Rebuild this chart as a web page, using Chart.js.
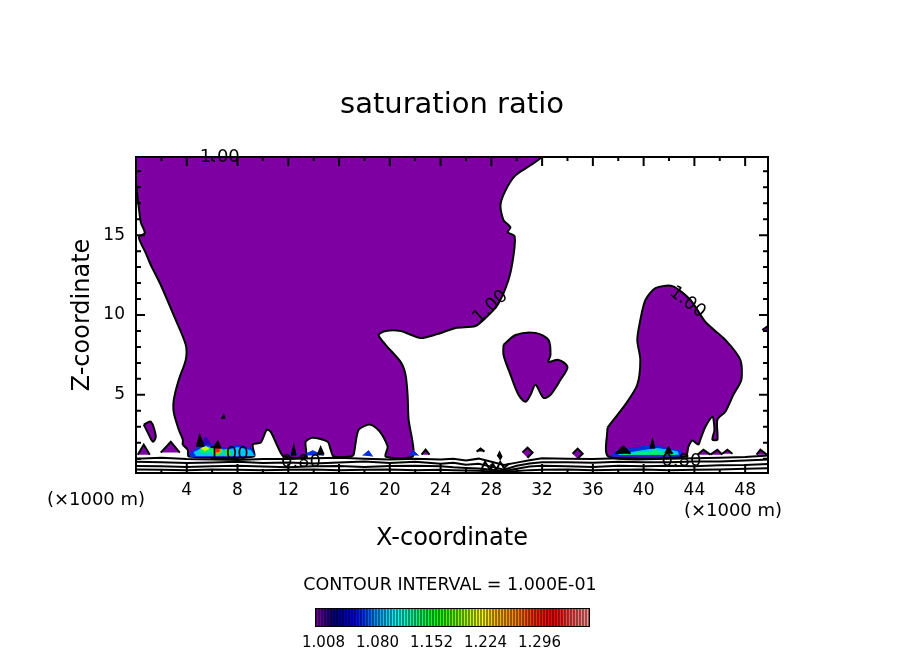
<!DOCTYPE html>
<html lang="en">
<head>
  <meta charset="UTF-8">
  <title>saturation ratio</title>
  <script src="https://cdn.jsdelivr.net/npm/chart.js"></script>
  <style>
    html, body { margin: 0; background: #fff; overflow: hidden; }
    #chart { position: absolute; left: 0; top: 0; }
    #colorbar { position: absolute; left: 290px; top: 572px; }
  </style>
</head>
<body>
  <canvas id="chart" width="904" height="654"></canvas>
  <canvas id="colorbar" width="320" height="82"></canvas>

  <script>
    // axis ticks (x in 1000 m, z in 1000 m)
    const xMajorTicks = [4, 8, 12, 16, 20, 24, 28, 32, 36, 40, 44, 48];
    const xMinorTicks = [2, 6, 10, 14, 18, 22, 26, 30, 34, 38, 42, 46];
    const zMajorTicks = [5, 10, 15];
    const zMinorTicks = [1, 2, 3, 4, 6, 7, 8, 9, 11, 12, 13, 14, 16, 17, 18, 19];

    // 1.00 contour, filled regions
    const mainCloudX = [0, 0.5, 31, 31.95, 31.09, 29.9, 29.12, 28.72, 28.96, 29.51, 29.28, 29.83, 29.75, 29.35, 28.49, 27.54, 26.75, 25.18, 23.76, 22.43, 20.85, 19.67, 19.12, 19.67, 20.85, 21.24, 21.4, 21.48, 21.8, 21.8, 19.67, 19.83, 19.27, 18.49, 17.54, 17.15, 16.91, 15.57, 15.34, 15.1, 13.92, 13.37, 13.37, 11.64, 11.17, 10.61, 10.3, 9.83, 9.2, 9.28, 4.16, 4.08, 3.69, 3.69, 3.37, 2.98, 2.98, 3.37, 3.92, 3.92, 3.13, 1.95, 1.17, 0.77, 0.22, 0.69, 0.38, 0.14, 0, 0];
    const mainCloudZ = [19.9, 19.9, 19.9, 19.9, 19.38, 18.75, 17.81, 16.88, 15.94, 15.5, 15.19, 14.94, 13.75, 12.19, 10.63, 9.81, 9.31, 9.19, 8.81, 8.56, 9, 9, 8.75, 8.13, 7.06, 6.25, 5, 3.44, 2, 1.13, 1.13, 1.75, 2.63, 3.13, 2.81, 1.25, 1.13, 1.13, 1.56, 2.06, 2.31, 2.06, 1.13, 1.13, 1.75, 2.69, 2.81, 2, 1.88, 1.13, 1.13, 1.56, 1.88, 2.19, 2.81, 3.88, 4.69, 5.94, 7.19, 8.13, 9.69, 11.88, 13.13, 13.88, 14.88, 15.13, 15.81, 17.31, 18.4, 19.9];
    const islandX = [28.96, 29.91, 31.48, 32.5, 32.66, 32.5, 33.29, 34, 33.45, 32.66, 32.11, 31.48, 31.09, 30.69, 30.14, 29.51, 28.96, 28.96];
    const islandZ = [8.13, 8.75, 8.88, 8.44, 7.5, 7.06, 7.19, 6.75, 5.94, 5, 4.81, 5.63, 5, 4.56, 5, 6.25, 7.5, 8.13];
    const rightCloudX = [37.15, 37.23, 43.29, 43.53, 43.84, 44.31, 44.47, 44.87, 45.42, 45.58, 45.42, 45.81, 45.81, 46.44, 47.07, 47.7, 47.62, 46.44, 44.87, 43.69, 42.27, 40.93, 40.14, 39.74, 39.5, 39.74, 39.5, 38.55, 37.15];
    const rightCloudZ = [2.94, 1.13, 1.13, 1.75, 2.13, 1.88, 2.19, 3, 3.63, 2.81, 2.19, 2.19, 3.44, 3.94, 5, 5.94, 7.19, 8.44, 9.56, 10.94, 11.81, 11.69, 10.94, 9.69, 8.44, 7.19, 5.63, 4.38, 2.94];
    const leftBlobX = [0.61, 1.17, 1.56, 1.32, 0.93, 0.61];
    const leftBlobZ = [3.13, 3.31, 2.38, 2.06, 2.63, 3.13];

    // small purple patches along the low levels: [x list, z list]
    const smallPatches = [
      [[0.14, 0.61, 1.09], [1.25, 1.88, 1.25]],
      [[1.95, 2.74, 3.45], [1.38, 2.06, 1.38]],
      [[22.5, 22.82, 23.13], [1.25, 1.56, 1.25]],
      [[30.45, 30.85, 31.25, 30.85], [1.38, 1.69, 1.38, 1.06]],
      [[34.4, 34.8, 35.2, 34.8], [1.31, 1.63, 1.31, 1]],
      [[44.24, 44.71, 45.26], [1.25, 1.56, 1.25]],
      [[45.26, 45.81, 46.2], [1.25, 1.56, 1.25]],
      [[46.2, 46.6, 47], [1.31, 1.56, 1.31]],
      [[48.9, 49.2, 49.7], [1.25, 1.56, 1.25]],
      [[49.35, 49.8, 49.8], [9.06, 9.31, 8.88]]
    ];

    // tiny closed contours that print as black specks
    const blackSpecks = [
      [[4.79, 5.02, 5.34], [1.75, 2.44, 1.75]],
      [[6.13, 6.44, 6.68], [1.63, 2.06, 1.63]],
      [[12.27, 12.43, 12.58], [1.19, 1.75, 1.19]],
      [[14.32, 14.55, 14.79], [1.25, 1.69, 1.25]],
      [[40.54, 40.7, 40.85], [1.63, 2.13, 1.63]],
      [[37.8, 38.4, 38.96], [1.31, 1.75, 1.31]],
      [[41.7, 41.96, 42.27], [1.31, 1.69, 1.31]],
      [[26.84, 27.15, 27.46], [1.44, 1.63, 1.44]],
      [[28.49, 28.65, 28.8, 28.65], [1.13, 1.38, 1.13, 0.94]],
      [[6.76, 6.91, 6.99], [3.5, 3.69, 3.5]]
    ];

    // shaded levels above 1.00: [x list, z list, colour], drawn bottom first
    const shadedPatches = [
      [[5.02, 5.5, 5.97], [1.81, 2.38, 1.81], '#3000b8'],
      [[4.2, 5.1, 6.3, 7.1, 8, 9.05, 9.36, 4.3], [1.3, 1.85, 1.85, 1.6, 1.85, 1.66, 1.19, 1.13], '#0030e0'],
      [[4.55, 5.5, 6.3, 7.15, 8, 9.05, 9.28, 4.7], [1.38, 1.75, 1.63, 1.5, 1.69, 1.5, 1.19, 1.19], '#00c8ff'],
      [[4.95, 5.5, 5.9, 6.13, 5.1], [1.5, 1.69, 1.69, 1.44, 1.38], '#00f070'],
      [[5.1, 5.5, 5.73, 5.42], [1.63, 1.75, 1.63, 1.5], '#d8ff00'],
      [[5.97, 6.52, 6.83, 6.52, 6.05], [1.56, 1.88, 1.44, 1.19, 1.25], '#30f030'],
      [[6.13, 6.52, 6.68, 6.28], [1.69, 1.75, 1.44, 1.31], '#ff9000'],
      [[6.28, 6.52, 6.52, 6.28], [1.63, 1.63, 1.44, 1.44], '#ff2000'],
      [[6.99, 7.39, 7.47, 7.07], [1.56, 1.56, 1.19, 1.19], '#20f000'],
      [[12.03, 12.43, 12.82], [1.25, 1.5, 1.25], '#0030e0'],
      [[13.13, 13.92, 14.79], [1.19, 1.5, 1.19], '#0030e0'],
      [[17.86, 18.33, 18.65], [1.19, 1.5, 1.13], '#0030e0'],
      [[21.48, 21.87, 22.27], [1.19, 1.5, 1.19], '#0030e0'],
      [[37.38, 37.94, 40.3, 41.09, 42.11, 43.06, 42.9], [1.13, 1.5, 1.8, 1.8, 1.6, 1.44, 1.13], '#0030e0'],
      [[38.02, 40.39, 41.09, 42.66, 42.74], [1.25, 1.56, 1.63, 1.44, 1.25], '#00c8ff'],
      [[38.33, 39.75, 40.54, 40.93, 41.32, 42.35, 42.5], [1.25, 1.38, 1.38, 1.56, 1.38, 1.31, 1.25], '#00f070']
    ];

    // low-level contours 0.80 and below
    const lowLineX = [0, 2, 4, 6, 8, 10, 12, 14, 16, 18, 20, 22, 24, 25, 26, 27, 28, 29, 30, 31, 32, 34, 36, 38, 40, 42, 44, 46, 48, 49.8];
    const lowLineA = [1, 1.06, 0.97, 0.94, 0.92, 0.97, 0.97, 1.03, 1.06, 1, 0.94, 1, 0.94, 1, 0.88, 1, 0.81, 0.6, 0.75, 0.9, 1.03, 1, 0.97, 1.03, 1, 1, 1.03, 1.06, 1.1, 1.19];
    const lowLineB = [0.8, 0.78, 0.72, 0.76, 0.8, 0.72, 0.76, 0.7, 0.76, 0.82, 0.72, 0.8, 0.68, 0.74, 0.62, 0.68, 0.5, 0.3, 0.55, 0.7, 0.78, 0.78, 0.74, 0.8, 0.78, 0.78, 0.82, 0.82, 0.88, 0.94];
    const lowLineC = [0.54, 0.52, 0.48, 0.52, 0.56, 0.5, 0.46, 0.52, 0.54, 0.48, 0.54, 0.56, 0.52, 0.46, 0.42, 0.38, 0.3, 0.22, 0.36, 0.5, 0.56, 0.52, 0.48, 0.56, 0.52, 0.56, 0.52, 0.58, 0.6, 0.66];
    const lowLineD = [0.32, 0.3, 0.28, 0.32, 0.3, 0.28, 0.3, 0.32, 0.28, 0.3, 0.32, 0.28, 0.3, 0.28, 0.26, 0.24, 0.2, 0.18, 0.22, 0.28, 0.3, 0.32, 0.28, 0.3, 0.32, 0.28, 0.3, 0.32, 0.36, 0.4];
    const squiggleX = [27.2, 27.5, 27.9, 28.1, 28.4, 28.7, 29, 29.4];
    const squiggleZ = [0.3, 0.8, 0.3, 0.7, 0.3, 0.8, 0.4, 0.7];

    // contour labels
    const labelText = ['1.00', '1.00', '1.00', '1.00', '0.80', '0.80'];
    const labelX = [6.6, 27.94, 43.45, 7.3, 13, 42.98];
    const labelZ = [19.9, 10.5, 10.8, 1.25, 0.75, 0.81];
    const labelAngle = [0, -42, 37, 0, 0, 0];

    // colour key
    const keyLevels = [1, 1.004, 1.008, 1.012, 1.016, 1.02, 1.024, 1.028, 1.032, 1.036, 1.04, 1.044, 1.048, 1.052, 1.056, 1.06, 1.064, 1.068, 1.072, 1.076, 1.08, 1.084, 1.088, 1.092, 1.096, 1.1, 1.104, 1.108, 1.112, 1.116, 1.12, 1.124, 1.128, 1.132, 1.136, 1.14, 1.144, 1.148, 1.152, 1.156, 1.16, 1.164, 1.168, 1.172, 1.176, 1.18, 1.184, 1.188, 1.192, 1.196, 1.2, 1.204, 1.208, 1.212, 1.216, 1.22, 1.224, 1.228, 1.232, 1.236, 1.24, 1.244, 1.248, 1.252, 1.256, 1.26, 1.264, 1.268, 1.272, 1.276, 1.28, 1.284, 1.288, 1.292, 1.296, 1.3, 1.304, 1.308, 1.312, 1.316, 1.32, 1.324, 1.328, 1.332, 1.336, 1.34, 1.344, 1.348, 1.352, 1.356, 1.36];
    const keyColors = ['#7000a0', '#5c0098', '#480090', '#300088', '#200080', '#100078', '#000088', '#000098', '#0000a8', '#0000b8', '#0000c8', '#0000d8', '#0000e8', '#0010f0', '#0020f8', '#0030ff', '#0048ff', '#0060ff', '#0078ff', '#0090ff', '#00a0ff', '#00b0ff', '#00c0ff', '#00d0ff', '#00e0ff', '#00ecff', '#00f8ff', '#00fff0', '#00ffe0', '#00ffd0', '#00ffc0', '#00ffac', '#00ff98', '#00ff84', '#00ff70', '#00ff60', '#00ff50', '#00ff40', '#00ff30', '#00ff20', '#10ff10', '#20ff00', '#30ff00', '#40ff00', '#50ff00', '#60ff00', '#70ff00', '#80ff00', '#90ff00', '#a0ff00', '#b0ff00', '#c0ff00', '#d0ff00', '#e0ff00', '#f0ff00', '#ffff00', '#fff000', '#ffe000', '#ffd000', '#ffc000', '#ffb800', '#ffb000', '#ffa800', '#ffa000', '#ff9800', '#ff9000', '#ff8800', '#ff8000', '#ff7000', '#ff6000', '#ff5000', '#ff4000', '#ff3000', '#ff2800', '#ff2000', '#ff1800', '#ff1000', '#ff0800', '#ff0000', '#ff0000', '#ff1010', '#ff2020', '#ff3030', '#ff4040', '#ff5050', '#ff5c5c', '#ff6868', '#ff7070', '#ff7c7c', '#ff8888', '#ff9090'];
    const keyLabels = [1.008, 1.08, 1.152, 1.224, 1.296];

    const FONT = '"DejaVu Sans", sans-serif';
    const PURPLE = '#7e00a3';

    function zip(xs, zs) {
      return xs.map((x, i) => ({ x, y: zs[i] }));
    }

    function region(xs, zs, fillColor, tension = 0) {
      return { data: zip(xs, zs), showLine: true, fill: 'shape', backgroundColor: fillColor,
        borderColor: 'black', borderWidth: 2, pointRadius: 0, tension };
    }

    function shade(xs, zs, color) {
      return { data: zip(xs, zs), showLine: true, fill: 'shape', backgroundColor: color,
        borderColor: color, borderWidth: 1, pointRadius: 0, tension: 0 };
    }

    function contour(xs, zs) {
      return { data: zip(xs, zs), showLine: true, fill: false, borderColor: 'black',
        borderWidth: 2, pointRadius: 0, tension: 0 };
    }

    // first dataset ends up on top in Chart.js
    const datasets = [];
    blackSpecks.forEach(p => datasets.push(region(p[0], p[1], 'black')));
    [lowLineA, lowLineB, lowLineC, lowLineD].forEach(z => datasets.push(contour(lowLineX, z)));
    datasets.push(contour(squiggleX, squiggleZ));
    shadedPatches.slice().reverse().forEach(p => datasets.push(shade(p[0], p[1], p[2])));
    smallPatches.forEach(p => datasets.push(region(p[0], p[1], PURPLE)));
    datasets.push(region(leftBlobX, leftBlobZ, PURPLE, 0.3));
    datasets.push(region(rightCloudX, rightCloudZ, PURPLE, 0.25));
    datasets.push(region(islandX, islandZ, PURPLE, 0.3));
    datasets.push(region(mainCloudX, mainCloudZ, PURPLE, 0.25));

    const frameAndLabels = {
      id: 'frameAndLabels',
      afterDatasetsDraw(chart) {
        const { ctx, chartArea: a, scales: { x, y } } = chart;
        ctx.save();
        ctx.strokeStyle = 'black';
        ctx.lineWidth = 2;
        ctx.strokeRect(a.left, a.top, a.right - a.left, a.bottom - a.top);
        ctx.beginPath();
        const xTick = (v, len) => {
          const px = x.getPixelForValue(v);
          ctx.moveTo(px, a.top); ctx.lineTo(px, a.top + len);
          ctx.moveTo(px, a.bottom); ctx.lineTo(px, a.bottom - len);
        };
        const zTick = (v, len) => {
          const py = y.getPixelForValue(v);
          ctx.moveTo(a.left, py); ctx.lineTo(a.left + len, py);
          ctx.moveTo(a.right, py); ctx.lineTo(a.right - len, py);
        };
        xMajorTicks.forEach(v => xTick(v, 9));
        xMinorTicks.forEach(v => xTick(v, 4));
        zMajorTicks.forEach(v => zTick(v, 9));
        zMinorTicks.forEach(v => zTick(v, 5));
        ctx.stroke();

        // contour labels sit on the lines
        ctx.fillStyle = 'black';
        ctx.font = '18px ' + FONT;
        ctx.textAlign = 'center';
        ctx.textBaseline = 'middle';
        labelText.forEach((t, i) => {
          ctx.save();
          ctx.translate(x.getPixelForValue(labelX[i]), y.getPixelForValue(labelZ[i]));
          ctx.rotate(labelAngle[i] * Math.PI / 180);
          ctx.fillText(t, 0, 0);
          ctx.restore();
        });

        ctx.font = '18px ' + FONT;
        ctx.fillText('(×1000 m)', 96, 500);
        ctx.fillText('(×1000 m)', 733, 511);
        ctx.restore();
      }
    };

    new Chart(document.getElementById('chart'), {
      type: 'scatter',
      data: { datasets },
      plugins: [frameAndLabels],
      options: {
        responsive: false,
        animation: false,
        devicePixelRatio: 1,
        plugins: {
          legend: { display: false },
          tooltip: { enabled: false },
          title: {
            display: true,
            text: 'saturation ratio',
            color: 'black',
            font: { family: FONT, size: 29, weight: 'normal' },
            padding: { top: 88, bottom: 34.2 }
          }
        },
        scales: {
          x: {
            type: 'linear', min: 0, max: 49.8,
            afterFit: s => { s.height = 181; },
            grid: { display: false, drawTicks: false },
            border: { display: false },
            ticks: { stepSize: 4, includeBounds: false, padding: 7, color: 'black', maxRotation: 0,
              font: { family: FONT, size: 17 }, callback: v => (v === 0 ? '' : v) },
            title: { display: true, text: 'X-coordinate', color: 'black',
              font: { family: FONT, size: 24 }, padding: { top: 0, bottom: 100.6 } }
          },
          y: {
            type: 'linear', min: 0.1, max: 19.9,
            afterFit: s => { s.width = 136; },
            grid: { display: false, drawTicks: false },
            border: { display: false },
            ticks: { stepSize: 5, includeBounds: false, padding: 11, color: 'black',
              font: { family: FONT, size: 17 } },
            title: { display: true, text: 'Z-coordinate', color: 'black',
              font: { family: FONT, size: 24 }, padding: { top: 68.6, bottom: 0 } }
          },
          // empty right axis keeps the plot centred under the title
          yRight: {
            type: 'linear', position: 'right', min: 0.1, max: 19.9,
            afterFit: s => { s.width = 136; },
            grid: { display: false, drawTicks: false },
            border: { display: false },
            ticks: { display: false }
          }
        }
      }
    });

    const keyBackdrop = {
      id: 'keyBackdrop',
      beforeDatasetsDraw(chart) {
        const { ctx, chartArea: a } = chart;
        ctx.save();
        ctx.fillStyle = 'black';
        ctx.fillRect(a.left - 1, a.top - 1, a.right - a.left + 2, a.bottom - a.top + 2);
        ctx.restore();
      }
    };

    new Chart(document.getElementById('colorbar'), {
      type: 'bar',
      data: {
        labels: keyLevels,
        datasets: [{ data: keyLevels.map(() => 1), backgroundColor: keyColors, barThickness: 1.5 }]
      },
      plugins: [keyBackdrop],
      options: {
        responsive: false,
        animation: false,
        devicePixelRatio: 1,
        plugins: {
          legend: { display: false },
          tooltip: { enabled: false },
          title: {
            display: true,
            text: 'CONTOUR INTERVAL = 1.000E-01',
            color: 'black',
            font: { family: FONT, size: 17.5, weight: 'normal' },
            padding: { top: 3, bottom: 13 }
          }
        },
        scales: {
          x: {
            afterFit: s => { s.height = 28; },
            grid: { display: false, drawTicks: false },
            border: { display: false },
            ticks: {
              autoSkip: false, maxRotation: 0, padding: 8, color: 'black',
              font: { family: FONT, size: 15 },
              callback(v) {
                const level = keyLevels[v];
                return keyLabels.includes(level) ? level.toFixed(3) : '';
              }
            }
          },
          // empty side axes hold the key to its width without squeezing the title
          y: {
            min: 0, max: 1,
            afterFit: s => { s.width = 26; },
            grid: { display: false, drawTicks: false },
            border: { display: false },
            ticks: { display: false }
          },
          yEnd: {
            position: 'right', min: 0, max: 1,
            afterFit: s => { s.width = 21; },
            grid: { display: false, drawTicks: false },
            border: { display: false },
            ticks: { display: false }
          }
        }
      }
    });
  </script>
</body>
</html>
